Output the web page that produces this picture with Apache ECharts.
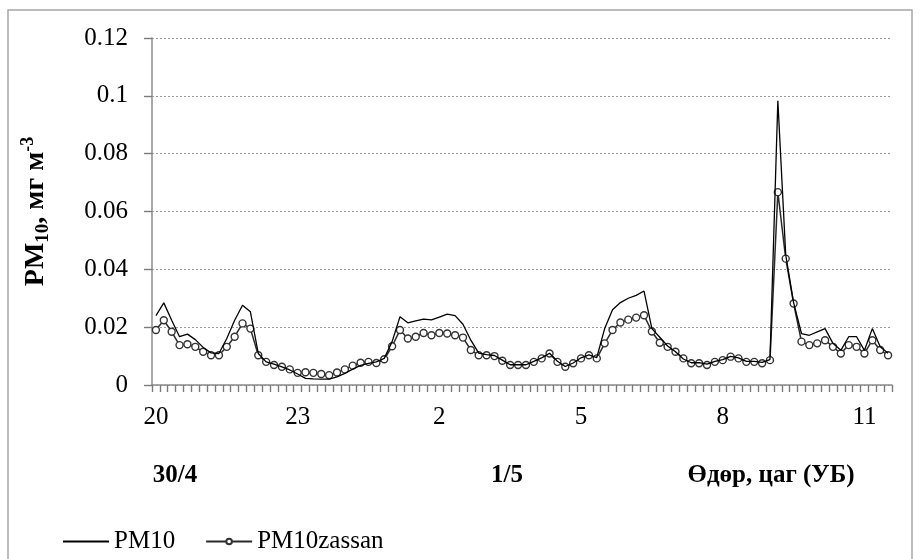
<!DOCTYPE html>
<html>
<head>
<meta charset="utf-8">
<title>PM10</title>
<script src="https://cdn.jsdelivr.net/npm/echarts@6/dist/echarts.min.js"></script>
<style>
  html, body { margin: 0; padding: 0; background: #fff; }
  #chart { width: 921px; height: 559px; }
</style>
</head>
<body>
<div id="chart"></div>
<script>
// 10 минутын хэмжилт, 30/4 20:00 -> 1/5 11:30
const startHour = 20
const stepMin = 10

const pm10 = [
  0.024, 0.0284, 0.0224, 0.0167, 0.0176, 0.0157, 0.013, 0.0111, 0.0109, 0.0161,
  0.0224, 0.0276, 0.0253, 0.0109, 0.008, 0.0072, 0.0063, 0.0052, 0.0038, 0.0023,
  0.0021, 0.002, 0.002, 0.0028, 0.004, 0.0055, 0.0068, 0.0075, 0.008, 0.0092,
  0.015, 0.0236, 0.0215, 0.0222, 0.0228, 0.0225, 0.0235, 0.0245, 0.024, 0.021,
  0.0155, 0.011, 0.0105, 0.0102, 0.0086, 0.007, 0.007, 0.007, 0.0082, 0.0094,
  0.011, 0.0082, 0.0064, 0.0076, 0.0094, 0.0104, 0.0095, 0.0195, 0.026, 0.0285,
  0.03, 0.031, 0.0325, 0.0195, 0.0165, 0.0135, 0.0115, 0.009, 0.0077, 0.0077,
  0.0072, 0.0082, 0.0088, 0.0099, 0.0094, 0.0082, 0.0082, 0.0078, 0.0088, 0.0983,
  0.045, 0.0285, 0.0178, 0.0172, 0.0184, 0.0195, 0.0144, 0.012, 0.0167, 0.0167,
  0.012, 0.0195, 0.0132, 0.011
]

const pm10zassan = [
  0.019, 0.0224, 0.0184, 0.0138, 0.0141, 0.0132, 0.0115, 0.0103, 0.0103, 0.0132,
  0.0167, 0.0213, 0.0195, 0.0103, 0.008, 0.0069, 0.0063, 0.0054, 0.0042, 0.0044,
  0.0042, 0.0038, 0.0034, 0.0043, 0.0054, 0.0067, 0.0077, 0.008, 0.0076, 0.0089,
  0.0134, 0.019, 0.0161, 0.0167, 0.018, 0.0172, 0.018, 0.0178, 0.0172, 0.0164,
  0.0121, 0.0103, 0.0103, 0.01, 0.0084, 0.0069, 0.0069, 0.0069, 0.008, 0.0092,
  0.0109, 0.008, 0.0063, 0.0075, 0.0092, 0.0103, 0.0092, 0.0144, 0.019, 0.0216,
  0.0226, 0.0233, 0.0241, 0.0185, 0.0146, 0.0132, 0.0115, 0.0092, 0.0075, 0.0075,
  0.0069, 0.008, 0.0086, 0.0098, 0.0092, 0.008, 0.008, 0.0075, 0.0086, 0.0667,
  0.0437, 0.0282, 0.015, 0.0138, 0.0144, 0.0155, 0.0132, 0.0109, 0.0138, 0.0132,
  0.0109, 0.0155, 0.0121, 0.0103
]

// Цагийн ангилал (HH:MM)
const times = pm10.map((_, i) => {
  const m = startHour * 60 + i * stepMin
  const h = Math.floor(m / 60) % 24
  const mm = m % 60
  return h + ':' + (mm < 10 ? '0' : '') + mm
})

// Огнооны тэмдэглэгээ
const dateLabels = ['30/4', '1/5', 'Өдөр, цаг (УБ)']
const dateLabelX = [175, 507, 771]

const FONT = 'Liberation Serif'
const AXIS_GRAY = '#8c8c8c'
const TICK_GRAY = '#7a7a7a'

const PLOT = { left: 152, right: 29, top: 38, bottom: 174 }

const chart = echarts.init(document.getElementById('chart'))

chart.setOption({
  animation: false,
  backgroundColor: '#fff',
  textStyle: { fontFamily: FONT, color: '#000' },
  grid: [
    PLOT,
    // доод зураасны мөр (x ticks)
    { left: PLOT.left, right: PLOT.right, top: 559 - PLOT.bottom, height: 7 },
    // зүүн зураасны багана (y ticks)
    { left: PLOT.left - 8, width: 8, top: PLOT.top, bottom: PLOT.bottom }
  ],
  legend: {
    left: 57,
    top: 524,
    itemWidth: 46,
    itemHeight: 7,
    itemGap: 30,
    textStyle: { fontFamily: FONT, fontSize: 25, color: '#000' },
    data: [
      { name: 'PM10', itemStyle: { opacity: 0 } },
      { name: 'PM10zassan' }
    ]
  },
  xAxis: [
    {
      type: 'category',
      gridIndex: 0,
      data: times,
      boundaryGap: true,
      axisLine: { show: true, onZero: false, lineStyle: { color: AXIS_GRAY, width: 1.5 } },
      axisTick: { show: true, interval: 0, length: 7, lineStyle: { color: TICK_GRAY, width: 1.2 } },
      axisLabel: {
        interval: 17,
        margin: 20,
        fontSize: 25,
        fontFamily: FONT,
        color: '#000',
        formatter: v => v.split(':')[0]
      },
      splitLine: { show: false }
    },
    {
      type: 'value',
      gridIndex: 1,
      min: 0,
      max: pm10.length,
      interval: 1,
      axisLine: { show: false },
      axisTick: { show: false },
      axisLabel: { show: false },
      splitLine: { show: true, lineStyle: { color: TICK_GRAY, width: 1.2, type: 'solid' } }
    },
    {
      type: 'value',
      gridIndex: 2,
      show: false
    }
  ],
  yAxis: [
    {
      type: 'value',
      gridIndex: 0,
      min: 0,
      max: 0.12,
      interval: 0.02,
      name: '{n|PM}{sub|10}{n|, мг м}{sup|-3}',
      nameLocation: 'middle',
      nameRotate: 90,
      nameGap: 99,
      nameTextStyle: {
        rich: {
          n: { fontFamily: FONT, fontSize: 28, fontWeight: 'bold', color: '#000', lineHeight: 34, verticalAlign: 'middle' },
          sub: { fontFamily: FONT, fontSize: 19, fontWeight: 'bold', color: '#000', lineHeight: 19, verticalAlign: 'bottom' },
          sup: { fontFamily: FONT, fontSize: 18, fontWeight: 'bold', color: '#000', lineHeight: 18, verticalAlign: 'top' }
        }
      },
      axisLine: { show: true, lineStyle: { color: AXIS_GRAY, width: 1.5 } },
      axisTick: { show: true, length: 8, lineStyle: { color: TICK_GRAY, width: 1.2 } },
      axisLabel: { margin: 24, fontSize: 25, fontFamily: FONT, color: '#000' },
      splitLine: { lineStyle: { color: '#9a9a9a', type: [2, 2], width: 1 } }
    },
    {
      type: 'value',
      gridIndex: 1,
      show: false
    },
    {
      type: 'value',
      gridIndex: 2,
      min: 0,
      max: 0.12,
      interval: 0.02,
      axisLine: { show: false },
      axisTick: { show: false },
      axisLabel: { show: false },
      splitLine: { show: true, lineStyle: { color: TICK_GRAY, width: 1.2, type: 'solid' } }
    }
  ],
  series: [
    {
      name: 'PM10',
      type: 'line',
      data: pm10,
      symbol: 'none',
      color: '#000',
      lineStyle: { color: '#000', width: 1.3 },
      z: 3
    },
    {
      name: 'PM10zassan',
      type: 'line',
      data: pm10zassan,
      symbol: 'circle',
      symbolSize: 7,
      showAllSymbol: true,
      color: '#333',
      lineStyle: { color: '#2a2a2a', width: 1.5 },
      itemStyle: { color: '#fff', borderColor: '#333', borderWidth: 1.4 },
      z: 2
    }
  ],
  graphic: [
    {
      type: 'rect',
      z: -1,
      shape: { x: 8, y: 10, width: 904, height: 560 },
      style: { fill: 'none', stroke: '#a6a6a6', lineWidth: 1.5 }
    },
    ...dateLabels.map((t, i) => ({
      type: 'text',
      x: dateLabelX[i],
      y: 476,
      style: {
        text: t,
        fontFamily: FONT,
        fontSize: 25,
        fontWeight: 'bold',
        fill: '#000',
        align: 'center',
        verticalAlign: 'middle'
      }
    }))
  ]
})
</script>
</body>
</html>
